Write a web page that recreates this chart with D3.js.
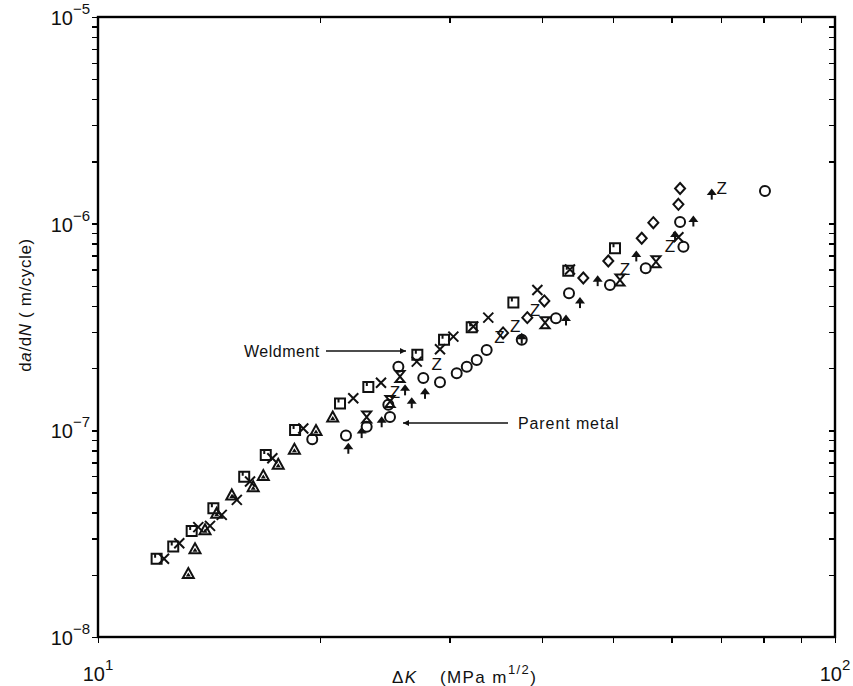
<!DOCTYPE html>
<html>
    <head>
        <meta charset="utf-8">
        <style>
        html, body {
            margin: 0px;
            background: #fff;
        }
        svg {
            display: block;
        }
        .axis path {
            display: none;
        }
        .axis line {
            stroke: #000;
            stroke-width: 1.4;
            shape-rendering: crispEdges;
        }
        text {
            font-family: "Liberation Sans", Arial, sans-serif;
            fill: #111;
        }
        .mark {
            fill: none;
            stroke: #111;
            stroke-width: 2;
        }
        </style>
    </head>
    <body>
        <svg class="chart" width="853" height="686"></svg>
        <script src="https://d3js.org/d3.v7.min.js"></script>
        <script>
            // delta K (MPa m^1/2) and da/dN (m/cycle), one pair of arrays per symbol
            var squareK    = [12.01, 12.65, 13.40, 14.34, 15.79, 16.89, 18.51, 21.30, 23.27, 27.12, 29.48, 32.14, 36.61, 43.46, 50.29];
            var squareRate = [2.39e-8, 2.74e-8, 3.26e-8, 4.20e-8, 5.97e-8, 7.60e-8, 1.005e-7, 1.35e-7, 1.62e-7, 2.32e-7, 2.74e-7, 3.15e-7, 4.15e-7, 5.92e-7, 7.60e-7];

            var crossK    = [12.29, 12.89, 13.68, 14.19, 14.72, 15.43, 16.08, 17.24, 18.99, 22.20, 24.21, 27.07, 29.11, 30.35, 32.30, 33.85, 39.46, 43.69, 61.31];
            var crossRate = [2.39e-8, 2.84e-8, 3.40e-8, 3.45e-8, 3.90e-8, 4.61e-8, 5.65e-8, 7.33e-8, 1.02e-7, 1.43e-7, 1.70e-7, 2.15e-7, 2.47e-7, 2.84e-7, 3.18e-7, 3.51e-7, 4.78e-7, 6.0e-7, 8.59e-7];

            var triK    = [13.26, 13.54, 13.97, 14.49, 15.19, 16.24, 16.76, 17.56, 18.47, 19.76, 20.82];
            var triRate = [2.03e-8, 2.67e-8, 3.30e-8, 3.97e-8, 4.87e-8, 5.34e-8, 6.04e-8, 6.85e-8, 8.10e-8, 9.97e-8, 1.16e-7];

            var circleK    = [19.53, 21.70, 23.15, 24.77, 24.90, 25.56, 27.63, 29.11, 30.67, 31.65, 32.65, 33.68, 37.58, 41.82, 43.56, 49.51, 55.36, 61.63, 62.28, 80.35];
            var circleRate = [9.06e-8, 9.43e-8, 1.04e-7, 1.33e-7, 1.16e-7, 2.03e-7, 1.79e-7, 1.71e-7, 1.89e-7, 2.03e-7, 2.19e-7, 2.45e-7, 2.74e-7, 3.49e-7, 4.61e-7, 5.05e-7, 6.09e-7, 1.02e-6, 7.74e-7, 1.44e-6];

            var spadeK    = [21.86, 22.79, 24.26, 26.10, 26.65, 27.78, 37.58, 43.15, 45.08, 47.64, 53.75, 60.67, 64.24, 68.04];
            var spadeRate = [8.19e-8, 9.75e-8, 1.10e-7, 1.57e-7, 1.36e-7, 1.51e-7, 2.79e-7, 3.42e-7, 4.15e-7, 5.30e-7, 6.98e-7, 8.72e-7, 1.03e-6, 1.39e-6];

            var zK    = [25.29, 28.81, 35.04, 36.81, 39.17, 51.89, 59.72, 70.19];
            var zRate = [1.54e-7, 2.09e-7, 2.82e-7, 3.18e-7, 3.82e-7, 6.04e-7, 7.80e-7, 1.48e-6];

            var diamondK    = [35.45, 38.24, 40.33, 45.55, 49.25, 54.67, 56.69, 61.31, 61.63];
            var diamondRate = [2.96e-7, 3.51e-7, 4.23e-7, 5.46e-7, 6.60e-7, 8.50e-7, 1.011e-6, 1.24e-6, 1.48e-6];

            var hourK    = [23.15, 24.90, 25.69, 40.42, 51.08, 57.16];
            var hourRate = [1.16e-7, 1.38e-7, 1.82e-7, 3.32e-7, 5.34e-7, 6.55e-7];

            var xDecades = [10, 100];
            var xDecadeExp = ["1", "2"];
            var yDecades = [1e-8, 1e-7, 1e-6, 1e-5];
            var yDecadeExp = ["\u22128", "\u22127", "\u22126", "\u22125"];

            var margin = {top: 17, left: 98},
                width = 737,
                height = 620;

            var svg = d3.select(".chart");
            var chart = svg.append("g")
                .attr("transform", "translate(" + margin.left + "," + margin.top + ")");

            var x = d3.scaleLog().domain([10, 100]).range([0, width]);
            var y = d3.scaleLog().domain([1e-8, 1e-5]).range([height, 0]);

            // log ticks on all four sides; left/bottom point out, top/right point in
            chart.append("g").attr("class", "axis")
                .call(d3.axisLeft(y).tickValues(y.ticks()).tickSize(6).tickFormat(""));
            chart.append("g").attr("class", "axis")
                .attr("transform", "translate(" + width + ",0)")
                .call(d3.axisLeft(y).tickValues(y.ticks()).tickSize(6).tickFormat(""));
            chart.append("g").attr("class", "axis")
                .attr("transform", "translate(0," + height + ")")
                .call(d3.axisBottom(x).tickValues(x.ticks()).tickSize(6).tickFormat(""));
            chart.append("g").attr("class", "axis")
                .call(d3.axisBottom(x).tickValues(x.ticks()).tickSize(6).tickFormat(""));

            chart.append("rect")
                .attr("width", width).attr("height", height)
                .attr("fill", "none").attr("stroke", "#000").attr("stroke-width", 2.4);

            // decade labels
            yDecades.forEach(function(v, i) {
                var t = chart.append("text")
                    .attr("x", -8).attr("y", y(v) + 8)
                    .attr("text-anchor", "end")
                    .style("font-size", "20px");
                t.append("tspan").text("10");
                t.append("tspan").attr("dy", -11).style("font-size", "15px").text(yDecadeExp[i]);
            });
            xDecades.forEach(function(v, i) {
                var t = chart.append("text")
                    .attr("x", x(v)).attr("y", height + 44)
                    .attr("text-anchor", "middle")
                    .style("font-size", "20px");
                t.append("tspan").text("10");
                t.append("tspan").attr("dy", -11).style("font-size", "15px").text(xDecadeExp[i]);
            });

            // axis titles
            var yt = svg.append("text")
                .attr("transform", "translate(31,305) rotate(-90)")
                .attr("text-anchor", "middle")
                .style("font-size", "17px")
                .style("letter-spacing", "0.6px");
            yt.append("tspan").text("d");
            yt.append("tspan").style("font-style", "italic").text("a");
            yt.append("tspan").text("/d");
            yt.append("tspan").style("font-style", "italic").text("N");
            yt.append("tspan").text(" ( m/cycle)");

            var xt = svg.append("text")
                .attr("x", 392).attr("y", 683)
                .style("font-size", "17px")
                .style("letter-spacing", "1.4px");
            xt.append("tspan").text("\u0394");
            xt.append("tspan").style("font-style", "italic").text("K");
            xt.append("tspan").attr("x", 440).text("(MPa m");
            xt.append("tspan").attr("dy", -9).style("font-size", "13px").text("1/2");
            xt.append("tspan").attr("dy", 9).text(")");

            // annotations
            svg.append("defs").append("marker")
                .attr("id", "head")
                .attr("viewBox", "0 0 10 10").attr("refX", 10).attr("refY", 5)
                .attr("markerWidth", 11).attr("markerHeight", 6)
                .attr("markerUnits", "userSpaceOnUse")
                .attr("orient", "auto")
                .append("path").attr("d", "M0,0L10,5L0,10Z").attr("fill", "#111");

            svg.append("text").attr("x", 244).attr("y", 357)
                .style("font-size", "16px").style("letter-spacing", "0.5px").text("Weldment");
            svg.append("line").attr("x1", 326).attr("y1", 351).attr("x2", 406).attr("y2", 351)
                .attr("stroke", "#111").attr("stroke-width", 1.4).attr("marker-end", "url(#head)");
            svg.append("text").attr("x", 518).attr("y", 429)
                .style("font-size", "16px").style("letter-spacing", "0.9px").text("Parent metal");
            svg.append("line").attr("x1", 508).attr("y1", 423).attr("x2", 403).attr("y2", 423)
                .attr("stroke", "#111").attr("stroke-width", 1.4).attr("marker-end", "url(#head)");

            function pairs(ks, rs) {
                return ks.map(function(k, i) { return {k: k, r: rs[i]}; });
            }
            function place(d) {
                return "translate(" + x(d.k) + "," + y(d.r) + ")";
            }
            function drawPath(data, d) {
                chart.selectAll(null).data(data).enter().append("path")
                    .attr("class", "mark")
                    .attr("transform", place)
                    .attr("d", d);
            }
            function fillPath(data, d) {
                chart.selectAll(null).data(data).enter().append("path")
                    .attr("transform", place)
                    .attr("d", d)
                    .attr("fill", "#111");
            }

            // open square with a small notch
            drawPath(pairs(squareK, squareRate), "M-5,-5H5V5H-5Z M-1.5,-5V-1");
            // cross
            drawPath(pairs(crossK, crossRate), "M-5,-5L5,5M5,-5L-5,5");
            // triangle with filled centre
            drawPath(pairs(triK, triRate), "M0,-5.5L5.5,4.5H-5.5Z");
            fillPath(pairs(triK, triRate), "M0,-1L2.5,3H-2.5Z");
            // circle
            chart.selectAll(null).data(pairs(circleK, circleRate)).enter().append("circle")
                .attr("class", "mark")
                .attr("cx", function(d) { return x(d.k); })
                .attr("cy", function(d) { return y(d.r); })
                .attr("r", 5);
            // filled arrow head with stem
            fillPath(pairs(spadeK, spadeRate), "M0,-5.5L5,1H-5Z");
            drawPath(pairs(spadeK, spadeRate), "M0,0V5.5");
            // diamond
            drawPath(pairs(diamondK, diamondRate), "M0,-5.5L5,0L0,5.5L-5,0Z");
            // hourglass
            drawPath(pairs(hourK, hourRate), "M-4.5,-5.5H4.5L-4.5,5.5H4.5Z");
            // Z
            chart.selectAll(null).data(pairs(zK, zRate)).enter().append("text")
                .attr("x", function(d) { return x(d.k); })
                .attr("y", function(d) { return y(d.r) + 6; })
                .attr("text-anchor", "middle")
                .style("font-size", "17px")
                .text("Z");
        </script>
    </body>
</html>
